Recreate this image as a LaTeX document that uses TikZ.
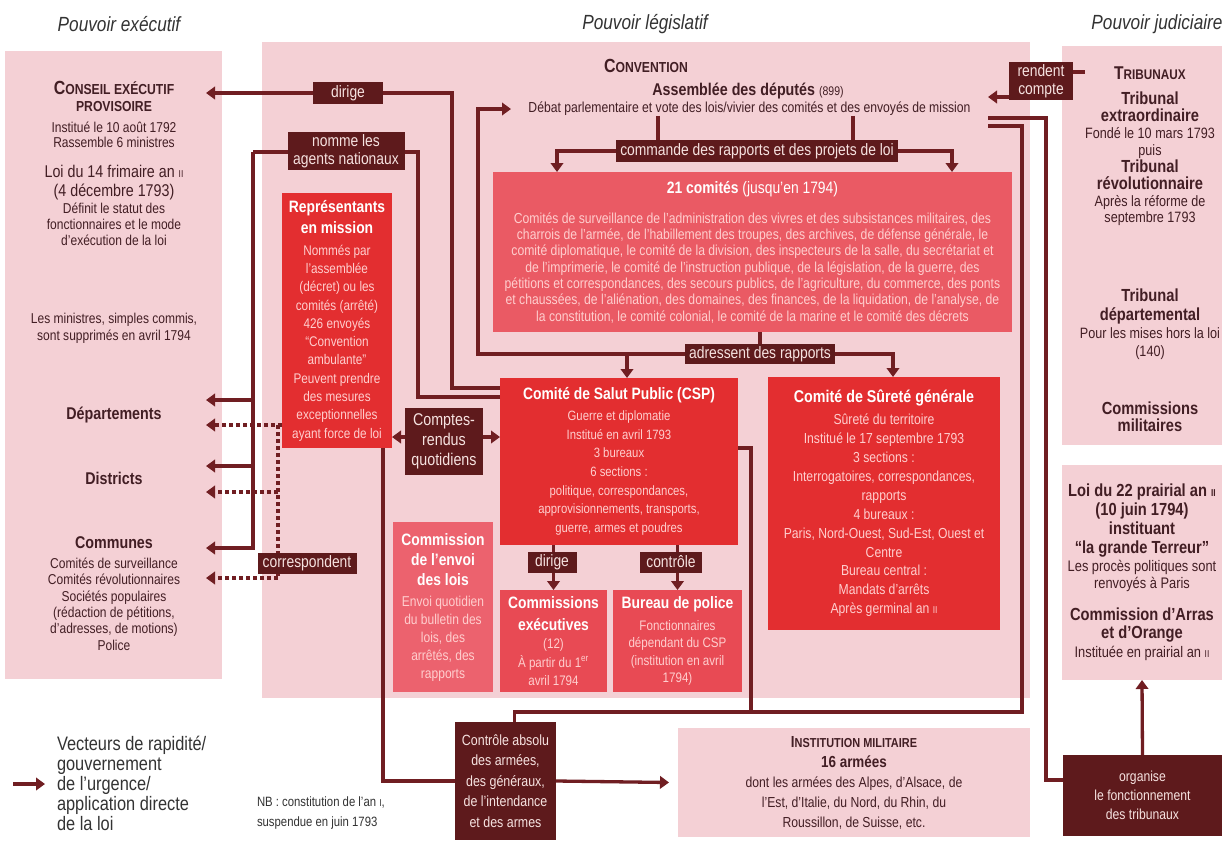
\documentclass[tikz,border=0pt]{standalone}
\usepackage{fontspec}
\setmainfont[FakeStretch=0.84]{Liberation Sans}
\usetikzlibrary{arrows.meta}
\definecolor{paleBg}{RGB}{244,208,213}
\definecolor{lineBrown}{RGB}{112,30,34}
\definecolor{tagBrown}{RGB}{94,26,28}
\definecolor{redMain}{RGB}{227,46,48}
\definecolor{redComites}{RGB}{234,90,100}
\definecolor{redSmall}{RGB}{232,74,84}
\definecolor{redEnvoi}{RGB}{236,98,110}
\definecolor{bodyPink}{RGB}{255,206,206}
\definecolor{inkDark}{RGB}{66,30,36}
\definecolor{tagText}{RGB}{246,226,224}
\newcommand{\fsz}[2]{\fontsize{#1}{#2}\selectfont}
\newcommand{\petitcap}[2][13]{{\fsz{#1}{#1}#2}}
\newcommand{\romsc}[1]{{\fsz{10}{10}#1}}
\newcommand{\grasl}[1]{{\bfseries\fsz{17.5}{17.5}#1}}
\newcommand{\blanc}[1]{{\color{white}\bfseries\fsz{16.5}{16.5}#1}}

\begin{document}
\begin{tikzpicture}[x=1pt, y=-1pt,
  every node/.style={inner sep=0pt, outer sep=0pt},
  pale/.style={fill=paleBg},
  ptxt/.style={align=center, text=inkDark},
  hdr/.style={font=\itshape\fsz{20.5}{22}, text=black!80},
  tag/.style={fill=tagBrown, text=tagText, align=center, font=\fsz{16.5}{17.5}, inner xsep=4pt, inner ysep=2pt},
  redbox/.style={fill=redMain, text=bodyPink, align=center},
  link/.style={draw=lineBrown, line width=3.3pt},
  arr/.style={link, -{Triangle[length=9pt, width=12.5pt]}},
  dotlink/.style={link, dash pattern=on 4pt off 3pt},
  dotarr/.style={arr, dash pattern=on 4pt off 3pt}]

  \fill[white] (0,0) rectangle (1227,841);
  \useasboundingbox (0,0) rectangle (1227,841);

  % Titres des pouvoirs
  \node[hdr] (hexec) at (119,24) {Pouvoir exécutif};
  \node[hdr] (hlegis) at (645,24) {Pouvoir législatif};
  \node[hdr] (hjudic) at (1157,24) {Pouvoir judiciaire};

  % Fonds
  \node[pale, minimum width=217pt, minimum height=628pt] (execbox) at (113.5,365) {};
  \node[pale, minimum width=768pt, minimum height=656pt] (convbox) at (646,370) {};
  \node[pale, minimum width=160pt, minimum height=399pt] (tribbox) at (1142,245.5) {};

  % Pouvoir executif
  \node[ptxt, font=\bfseries\fsz{19}{17}] (cep) at (114,96.5) {C\petitcap[14.5]{ONSEIL EXÉCUTIF}\\\petitcap[14.5]{PROVISOIRE}};
  \node[ptxt, font=\fsz{14.3}{15}] (cepinfo) at (114,134.5) {Institué le 10 août 1792\\Rassemble 6 ministres};
  \node[ptxt, font=\fsz{17}{19}] (loi14) at (114,182.5) {Loi du 14 frimaire an \romsc{II}\\(4 décembre 1793)};
  \node[ptxt, font=\fsz{14.3}{16}] (loi14info) at (114,224) {Définit le statut des\\fonctionnaires et le mode\\d'exécution de la loi};
  \node[ptxt, font=\fsz{14.3}{17}] (minis) at (114,328.5) {Les ministres, simples commis,\\sont supprimés en avril 1794};
  \node[ptxt, font=\bfseries\fsz{17}{17}] (dep) at (114,415) {Départements};
  \node[ptxt, font=\bfseries\fsz{17}{17}] (dist) at (114,478) {Districts};
  \node[ptxt, font=\bfseries\fsz{17}{17}] (comm) at (114,543) {Communes};
  \node[ptxt, font=\fsz{14.3}{16.4}] (comminfo) at (114,604) {Comités de surveillance\\Comités révolutionnaires\\Sociétés populaires\\(rédaction de pétitions,\\d'adresses, de motions)\\Police};

  % Convention
  \node[ptxt, font=\bfseries\fsz{19}{19}] (conv) at (646,66) {C\petitcap[14.5]{ONVENTION}};
  \node[ptxt, font=\fsz{17}{17}] (assemblee) at (748,91) {\textbf{Assemblée des députés} {\fsz{12.5}{12.5}(899)}};
  \node[ptxt, font=\fsz{14.5}{15}, minimum width=477pt] (debat) at (749.5,109) {Débat parlementaire et vote des lois/vivier des comités et des envoyés de mission};
  \node[tag, minimum height=22pt] (cmd) at (757,151) {commande des rapports et des projets de loi};
  \node[redbox, fill=redComites, minimum width=519pt, minimum height=160pt, font=\fsz{14.5}{16.3}] (comites) at (752.5,252)
    {{\color{white}\fsz{16.5}{16.5}\textbf{21 comités} (jusqu'en 1794)}\\[13.7pt]
     Comités de surveillance de l'administration des vivres et des subsistances militaires, des\\
     charrois de l'armée, de l'habillement des troupes, des archives, de défense générale, le\\
     comité diplomatique, le comité de la division, des inspecteurs de la salle, du secrétariat et\\
     de l'imprimerie, le comité de l'instruction publique, de la législation, de la guerre, des\\
     pétitions et correspondances, des secours publics, de l'agriculture, du commerce, des ponts\\
     et chaussées, de l'aliénation, des domaines, des finances, de la liquidation, de l'analyse, de\\
     la constitution, le comité colonial, le comité de la marine et le comité des décrets};
  \node[tag, minimum height=20pt] (adr) at (760,354) {adressent des rapports};
  \node[redbox, minimum width=110pt, minimum height=255pt, font=\fsz{14}{18.3}] (rep) at (337,320.5)
    {\blanc{Représentants}\\[2.7pt]\blanc{en mission}\\[3.7pt]
     Nommés par\\l'assemblée\\(décret) ou les\\comités (arrêté)\\426 envoyés\\“Convention\\ambulante”\\Peuvent prendre\\des mesures\\exceptionnelles\\ayant force de loi};
  \node[redbox, minimum width=238pt, minimum height=167pt, font=\fsz{13.5}{18.7}] (csp) at (619,461.5)
    {\blanc{Comité de Salut Public (CSP)}\\[2pt]
     Guerre et diplomatie\\Institué en avril 1793\\3 bureaux\\6 sections :\\politique, correspondances,\\approvisionnements, transports,\\guerre, armes et poudres};
  \node[redbox, minimum width=232pt, minimum height=253pt, font=\fsz{14.5}{18.9}] (csg) at (884,503.5)
    {{\color{white}\bfseries\fsz{17}{17}Comité de Sûreté générale}\\[3pt]
     Sûreté du territoire\\Institué le 17 septembre 1793\\3 sections :\\Interrogatoires, correspondances,\\rapports\\4 bureaux :\\Paris, Nord-Ouest, Sud-Est, Ouest et\\Centre\\Bureau central :\\Mandats d'arrêts\\Après germinal an \romsc{II}};
  \node[tag, minimum width=78pt, minimum height=67pt, font=\fsz{17}{20}] (cr) at (444,441.5) {Comptes-\\rendus\\quotidiens};
  \node[redbox, fill=redEnvoi, minimum width=100pt, minimum height=170pt, font=\fsz{14.3}{18}] (envoi) at (443,607)
    {\blanc{Commission}\\[2pt]\blanc{de l'envoi}\\[2pt]\blanc{des lois}\\[3pt]
     Envoi quotidien\\du bulletin des\\lois, des\\arrêtés, des\\rapports};
  \node[redbox, fill=redSmall, minimum width=107pt, minimum height=102pt, font=\fsz{13.8}{18.5}] (comex) at (553.5,641)
    {\blanc{Commissions}\\[3.5pt]\blanc{exécutives}\\(12)\\À partir du 1\textsuperscript{er}\\avril 1794};
  \node[redbox, fill=redSmall, minimum width=129pt, minimum height=102pt, font=\fsz{13.8}{17.5}] (police) at (677.5,641)
    {\blanc{Bureau de police}\\[4pt]
     Fonctionnaires\\dépendant du CSP\\(institution en avril\\1794)};

  % Pouvoir judiciaire
  \node[tag, minimum width=64pt, minimum height=38pt] (rendent) at (1041,81) {rendent\\compte};
  \node[ptxt, font=\bfseries\fsz{18.5}{18}] (trib) at (1150,73) {T\petitcap[14]{RIBUNAUX}};
  \node[ptxt, font=\fsz{15}{16.9}] (textra) at (1150,159)
    {\grasl{Tribunal}\\\grasl{extraordinaire}\\Fondé le 10 mars 1793\\puis\\\grasl{Tribunal}\\\grasl{révolutionnaire}\\Après la réforme de\\septembre 1793};
  \node[ptxt, font=\fsz{15}{18.3}] (tdep) at (1150,324.5) {\grasl{Tribunal}\\\grasl{départemental}\\Pour les mises hors la loi\\(140)};
  \node[ptxt, font=\bfseries\fsz{17.5}{17}] (tcm) at (1150,416.5) {Commissions\\militaires};
  \node[pale, ptxt, minimum width=160pt, minimum height=215pt, font=\fsz{15.3}{17.5}] (prairial) at (1142,572.5)
    {\grasl{Loi du 22 prairial an \romsc{II}}\\[1.5pt]\grasl{(10 juin 1794)}\\[1.5pt]\grasl{instituant}\\[1.5pt]\grasl{“la grande Terreur”}\\
     Les procès politiques sont\\renvoyés à Paris\\[14.5pt]
     \grasl{Commission d'Arras}\\[0.5pt]\grasl{et d'Orange}\\[1.5pt]Instituée en prairial an \romsc{II}};
  \node[tag, minimum width=159pt, minimum height=81pt, font=\fsz{14.5}{19}] (organise) at (1142.5,795.5) {organise\\le fonctionnement\\des tribunaux};

  % Bas de la figure
  \node[tag, minimum width=101pt, minimum height=118pt, font=\fsz{14.8}{20.5}] (ctrl) at (505.5,781) {Contrôle absolu\\des armées,\\des généraux,\\de l'intendance\\et des armes};
  \node[pale, ptxt, minimum width=352pt, minimum height=109pt, font=\fsz{14.5}{20}] (armee) at (854,782.5)
    {{\bfseries\fsz{16}{16}I\petitcap{NSTITUTION MILITAIRE}}\\{\bfseries\fsz{16}{16}16 armées}\\dont les armées des Alpes, d'Alsace, de\\l'Est, d'Italie, du Nord, du Rhin, du\\Roussillon, de Suisse, etc.};
  \node[anchor=west, align=left, font=\fsz{19.5}{20}, text=black!80] (legend) at (57,783) {Vecteurs de rapidité/\\gouvernement\\de l'urgence/\\application directe\\de la loi};
  \node[anchor=west, align=left, font=\fsz{13.5}{20}, text=black!80] (nb) at (257,813) {NB : constitution de l'an \romsc{I},\\suspendue en juin 1793};

  % Pointes des fleches vers le pouvoir executif
  \coordinate (cepTip) at (206,93);
  \coordinate (depTip) at (206,400);
  \coordinate (distTip) at (206,466);
  \coordinate (commTip) at (206,548);
  \coordinate (depDot) at (206,425);
  \coordinate (distDot) at (206,492);
  \coordinate (commDot) at (206,578);
  \coordinate (legTail) at (13,784);

  % CSP dirige le conseil, nomme les agents
  \draw[arr] (csp.north west |- 0,388) -| (452,93) -- (cepTip);
  \draw[link] (csp.north west |- 0,397) -| (418,152) -- (253,152);
  \draw[arr] (253,152) |- (commTip);
  \foreach \tip in {depTip,distTip}
    \draw[arr] (253,0 |- \tip) -- (\tip);

  % Representants : correspondances
  \draw[dotarr] (rep.west |- depDot) -- (depDot);
  \draw[dotlink] (278,0 |- depDot) -- (278,0 |- commDot);
  \foreach \tip in {distDot,commDot}
    \draw[dotarr] (278,0 |- \tip) -- (\tip);
  \draw[arr] (cr.west |- 0,437) -- (rep.east |- 0,437);
  \draw[arr] (cr.east |- 0,437) -- (csp.west |- 0,437);

  % Assemblee et comites
  \draw[link] (debat.south -| 658,0) -- (cmd.north -| 658,0);
  \draw[link] (debat.south -| 853,0) -- (cmd.north -| 853,0);
  \draw[arr] (cmd.west) -| ([xshift=-195.5pt]comites.north);
  \draw[arr] (cmd.east) -| ([xshift=199.5pt]comites.north);
  \draw[link] (comites.south -| adr.north) -- (adr.north);
  \draw[arr] (adr.west) -| (debat.west -| 478,0) -- (debat.west);
  \draw[arr] (adr.west -| 627,0) -- (csp.north -| 627,0);
  \draw[arr] (adr.east) -| ([xshift=9pt]csg.north);
  \draw[arr] (comex.north |- csp.south) -- (comex.north);
  \draw[arr] (police.north |- csp.south) -- (police.north);

  % Controle des armees
  \draw[link] (rep.south -| 383,0) |- (ctrl.west);
  \draw[link] (csp.east |- 0,448) -| (751,712);
  \draw[link] (debat.east |- 0,126) -| (1022,712) -| ([xshift=9pt]ctrl.north);
  \draw[arr] (ctrl.east) -- ([xshift=-9pt]armee.west);

  % Tribunaux
  \draw[arr] (rendent.west |- 0,97) -- (debat.east |- 0,97);
  \draw[link] (rendent.east |- 0,72) -- ++(12,0);
  \draw[link] (debat.east |- 0,118) -| (1046,780) -- (organise.west |- 0,780);
  \draw[arr] (organise.north) -- (prairial.south);

  % Legende
  \draw[arr] (legTail) -- ++(32,0);

  % Etiquettes posees sur les liens
  \node[tag, minimum width=70pt, minimum height=22pt] (dirtag) at (348,93) {dirige};
  \node[tag, minimum width=117pt, minimum height=38pt] (nomtag) at (346,151) {nomme les\\agents nationaux};
  \node[tag, minimum width=99pt, minimum height=21pt] (cortag) at (307,563) {correspondent};
  \node[tag, minimum width=49pt, minimum height=21pt] (dir2tag) at (552,562) {dirige};
  \node[tag, minimum width=62pt, minimum height=21pt] (ctltag) at (671,562) {contrôle};
\end{tikzpicture}
\end{document}
